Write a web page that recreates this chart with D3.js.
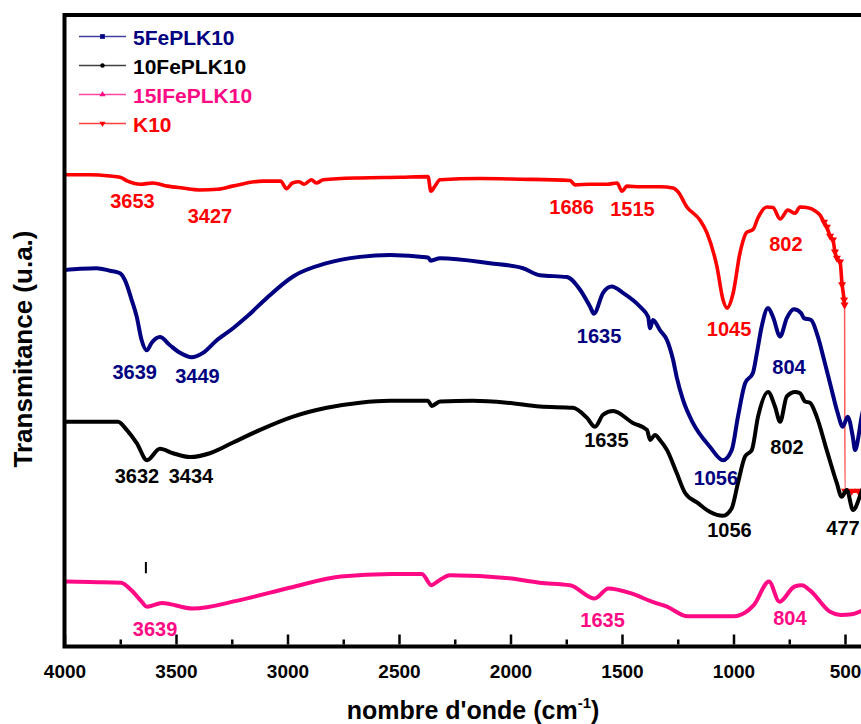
<!DOCTYPE html>
<html>
<head>
<meta charset="utf-8">
<script src="https://cdn.jsdelivr.net/npm/d3@7/dist/d3.min.js"></script>
<style>
  html, body { margin: 0; padding: 0; background: #fff; }
  svg text { font-family: "Liberation Sans", Arial, sans-serif; font-weight: bold; }
</style>
</head>
<body>
<svg id="chart" width="861" height="724"></svg>
<script>
// FTIR spectra: [wavenumber (cm-1), transmittance (a.u.)]
const k10 = [
  [4000,74.7],[3886,74.7],[3796,74.5],[3751,74.3],[3717,73.7],[3659,73.2],[3605,73.4],
  [3538,72.9],[3471,72.6],[3395,72.3],[3314,72.4],[3247,72.9],[3112,73.7],[3031,73.7],
  [3004,72.5],[2978,73.4],[2948,73.6],[2925,73.2],[2893,73.9],[2871,73.4],[2839,73.9],
  [2675,74.2],[2496,74.3],[2370,74.4],[2357,72.1],[2339,72.9],[2316,73.9],[2137,74.1],
  [1957,74.0],[1733,73.8],[1711,73.1],[1644,73.2],[1567,73.2],[1522,73.4],[1500,72.1],
  [1478,72.9],[1419,72.8],[1330,72.8],[1271,72.6],[1249,72.0],[1209,69.6],[1150,67.5],
  [1119,65.5],[1074,60.1],[1047,54.9],[1029,53.6],[1002,55.9],[971,62.3],[940,65.6],
  [913,66.0],[890,67.9],[850,69.6],[823,69.5],[791,67.7],[756,69.1],[724,68.6],[702,69.6],
  [657,69.4],[635,69.0],[612,68.3],[594,67.2],[581,66.4],[567,65.0],[554,64.4],[545,62.5],
  [536,61.5],[522,60.9],[513,57.3],[504,54.9],[502,54.1],
  [500,24.6],[470,24.6],[440,24.6],[400,24.6]
];
const fe5 = [
  [4000,59.6],[3930,59.8],[3856,59.9],[3796,59.5],[3751,59.1],[3729,58.0],[3699,54.9],
  [3676,52.2],[3654,48.5],[3631,46.9],[3609,48.1],[3572,49.0],[3527,47.7],[3482,46.5],
  [3430,45.8],[3379,46.5],[3317,48.5],[3244,50.4],[3183,52.2],[3093,55.2],[2975,58.6],
  [2824,60.7],[2675,61.7],[2540,62.0],[2370,61.6],[2357,61.1],[2316,61.5],[2092,60.7],
  [1944,59.9],[1868,58.8],[1747,58.5],[1688,56.5],[1643,53.8],[1626,52.7],[1585,56.0],
  [1546,57.0],[1496,56.0],[1419,53.8],[1383,52.2],[1374,50.4],[1361,51.7],[1330,50.1],
  [1298,48.5],[1271,45.4],[1255,42.7],[1226,39.0],[1182,35.4],[1105,31.6],[1047,29.5],
  [1008,31.1],[980,36.4],[948,41.7],[913,43.3],[895,46.5],[874,50.6],[845,53.6],[823,52.2],
  [791,49.1],[761,52.0],[729,53.4],[697,52.8],[684,52.0],[652,51.7],[622,49.1],[594,45.4],
  [563,41.1],[533,37.0],[510,34.8],[488,36.4],[465,33.2],[455,31.1],[437,33.8],[428,35.9],
  [406,39.0]
];
const fe10 = [
  [4000,35.6],[3760,35.6],[3721,34.3],[3676,32.2],[3630,29.5],[3572,31.3],[3513,30.6],
  [3437,30.0],[3348,30.6],[3244,32.3],[3123,34.3],[2975,36.4],[2824,37.8],[2675,38.6],
  [2540,38.9],[2370,38.9],[2353,38.1],[2316,38.8],[2168,38.9],[2016,38.6],[1868,38.0],
  [1720,37.8],[1657,36.2],[1621,34.8],[1585,36.7],[1540,37.3],[1451,35.4],[1388,34.3],
  [1374,32.7],[1352,33.5],[1330,32.7],[1298,31.1],[1255,27.5],[1217,24.3],[1159,22.7],
  [1105,21.3],[1047,20.7],[1008,21.9],[980,25.9],[948,30.1],[918,31.1],[890,36.4],
  [845,40.3],[814,38.0],[791,35.6],[761,39.6],[724,40.3],[702,40.1],[679,38.8],[657,38.6],
  [627,36.4],[582,31.1],[537,25.9],[515,23.7],[492,24.8],[464,21.6],[428,24.3],[406,26.4]
];
const fe15 = [
  [4000,10.3],[3886,10.2],[3747,10.1],[3700,8.9],[3654,7.1],[3631,6.3],[3563,6.9],
  [3425,6.0],[3219,7.3],[2991,9.3],[2762,11.1],[2533,11.5],[2397,11.5],[2355,9.7],
  [2327,10.3],[2271,11.3],[2007,10.8],[1870,10.1],[1733,9.7],[1622,7.6],[1561,9.2],
  [1458,8.4],[1366,7.1],[1298,6.3],[1206,4.8],[1000,4.8],[908,6.6],[841,10.3],[794,7.1],
  [726,9.5],[693,9.7],[657,8.9],[567,5.5],[520,5.0],[469,5.1],[428,5.6],[400,6.0]
];

// Axis ticks
const majorTicks = [4000, 3500, 3000, 2500, 2000, 1500, 1000, 500];
const minorTicks = [3750, 3250, 2750, 2250, 1750, 1250, 750];

// Series styling and legend entries
const seriesNames = ["5FePLK10", "10FePLK10", "15IFePLK10", "K10"];
const seriesColors = ["#000080", "#000000", "#ff0a84", "#ff0000"];
const seriesSymbols = [d3.symbolSquare, d3.symbolCircle, d3.symbolTriangle, d3.symbolTriangle];

// Band assignments: [text, wavenumber, transmittance, colour index]
const bandLabels = [
  ["3653", 3695, 69.5, 3], ["3427", 3348, 67.1, 3], ["1686", 1726, 68.5, 3],
  ["1515", 1453, 68.1, 3], ["1045", 1020, 49.2, 3], ["802", 765, 62.7, 3],
  ["3639", 3685, 42.4, 0], ["3449", 3404, 41.7, 0], ["1635", 1603, 48.1, 0],
  ["1056", 1079, 25.6, 0], ["804", 751, 43.2, 0],
  ["3632", 3675, 25.9, 1], ["3434", 3433, 25.9, 1], ["1635", 1570, 31.6, 1],
  ["1056", 1018, 17.4, 1], ["802", 760, 30.5, 1], ["477", 509, 17.7, 1],
  ["3639", 3594, 1.7, 2], ["1635", 1587, 3.1, 2], ["804", 747, 3.4, 2]
];

const svg = d3.select("#chart");
const plotLeft = 64.5, plotTop = 15, plotBottom = 646.5;
const x = d3.scaleLinear().domain([4000, 400]).range([plotLeft, plotLeft + 3600 * 0.223]);
const y = d3.scaleLinear().domain([0, 100]).range([plotBottom, plotTop]);

svg.append("defs").append("clipPath").attr("id", "plot-clip")
  .append("rect").attr("x", plotLeft).attr("y", plotTop)
  .attr("width", 900).attr("height", plotBottom - plotTop);

const line = d3.line().x(d => x(d[0])).y(d => y(d[1])).curve(d3.curveMonotoneX);
const plot = svg.append("g").attr("clip-path", "url(#plot-clip)");

// K10: thin connecting line through all points, thick trace on both sides of the step
plot.append("path").datum(k10).attr("d", line)
  .attr("fill", "none").attr("stroke", "#ff5a5a").attr("stroke-width", 1.5);
[k10.filter(d => d[0] > 501), k10.filter(d => d[0] <= 501)].forEach(part => {
  plot.append("path").datum(part).attr("d", line)
    .attr("fill", "none").attr("stroke", seriesColors[3]).attr("stroke-width", 3.6)
    .attr("stroke-linejoin", "round").attr("stroke-linecap", "round");
});
plot.selectAll(".k10-sym").data(k10.filter(d => d[0] < 600))
  .join("path").attr("class", "k10-sym")
  .attr("d", d3.symbol(d3.symbolTriangle, 28))
  .attr("transform", d => `translate(${x(d[0])},${y(d[1])}) rotate(180)`)
  .attr("fill", seriesColors[3]);

[[fe5, 0], [fe10, 1], [fe15, 2]].forEach(([data, i]) => {
  plot.append("path").datum(data).attr("d", line)
    .attr("fill", "none").attr("stroke", seriesColors[i]).attr("stroke-width", 4)
    .attr("stroke-linejoin", "round").attr("stroke-linecap", "round");
});

// Small marker above the 15IFePLK10 trace
plot.append("line")
  .attr("x1", x(3635)).attr("x2", x(3635)).attr("y1", y(11.6)).attr("y2", y(13.4))
  .attr("stroke", "#000").attr("stroke-width", 2);

// Band labels
svg.append("g").selectAll("text").data(bandLabels).join("text")
  .attr("x", d => x(d[1])).attr("y", d => y(d[2]))
  .attr("text-anchor", "middle").attr("font-size", 20)
  .attr("fill", d => seriesColors[d[3]]).text(d => d[0]);

// Bottom axis: major ticks with labels, minor ticks inward
const axisG = svg.append("g").attr("transform", `translate(0,${plotBottom - 2})`);
axisG.call(d3.axisBottom(x).tickValues(majorTicks).tickSizeInner(-10).tickSizeOuter(0)
  .tickPadding(20).tickFormat(d3.format("d")));
axisG.select(".domain").remove();
axisG.selectAll(".tick line").attr("stroke", "#000").attr("stroke-width", 2.5);
axisG.selectAll(".tick text").attr("font-size", 19).attr("fill", "#000")
  .attr("font-family", "'Liberation Sans', Arial, sans-serif");
const minorG = svg.append("g").attr("transform", `translate(0,${plotBottom - 2})`);
minorG.call(d3.axisBottom(x).tickValues(minorTicks).tickSizeInner(-5).tickSizeOuter(0).tickFormat(""));
minorG.select(".domain").remove();
minorG.selectAll(".tick line").attr("stroke", "#000").attr("stroke-width", 2.5);

// Frame
svg.append("path")
  .attr("d", `M${x(400) + 10},${plotTop} H${plotLeft} V${plotBottom} H${x(400) + 10}`)
  .attr("fill", "none").attr("stroke", "#000").attr("stroke-width", 4)
  .attr("stroke-linejoin", "miter");

// Axis titles
const xt = svg.append("text").attr("x", 473).attr("y", 719)
  .attr("text-anchor", "middle").attr("font-size", 25).attr("fill", "#000");
xt.append("tspan").text("nombre d'onde (cm");
xt.append("tspan").attr("font-size", 15).attr("dy", -11).text("-1");
xt.append("tspan").attr("dy", 11).text(")");

svg.append("text").attr("transform", "translate(32,349) rotate(-90)")
  .attr("text-anchor", "middle").attr("font-size", 26).attr("fill", "#000")
  .text("Transmitance (u.a.)");

// Legend
const legend = svg.append("g");
const legendRows = seriesNames.map((name, i) => ({ name, i, yy: 36.5 + i * 29 }));
legendRows.forEach(r => {
  legend.append("line").attr("x1", 79).attr("x2", 126).attr("y1", r.yy).attr("y2", r.yy)
    .attr("stroke", seriesColors[r.i]).attr("stroke-width", 1.5).attr("opacity", 0.75);
  legend.append("path")
    .attr("d", d3.symbol(seriesSymbols[r.i], r.i === 0 ? 22 : 16))
    .attr("transform", `translate(102.5,${r.yy}) rotate(${r.i === 3 ? 180 : 0})`)
    .attr("fill", seriesColors[r.i]);
  legend.append("text").attr("x", 133).attr("y", r.yy + 8)
    .attr("font-size", 21).attr("fill", seriesColors[r.i]).text(r.name);
});
</script>
</body>
</html>
